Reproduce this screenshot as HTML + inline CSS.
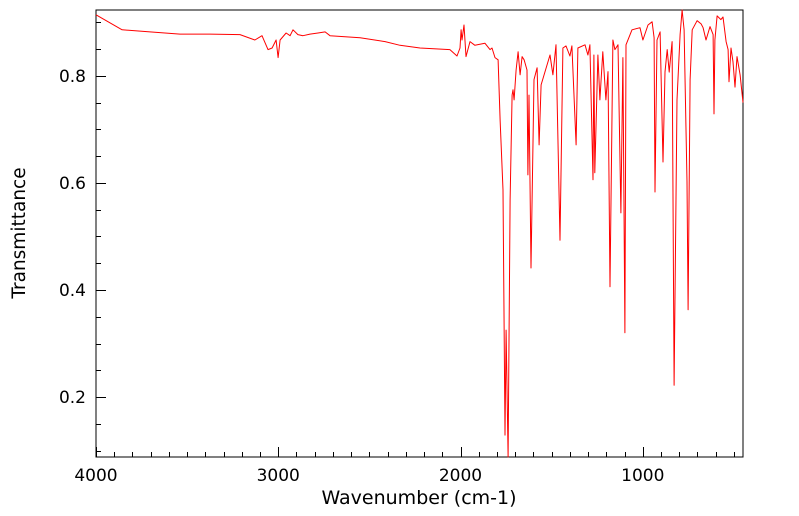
<!DOCTYPE html>
<html><head><meta charset="utf-8"><style>
html,body{margin:0;padding:0;background:#fff;}
svg{display:block;font-family:"DejaVu Sans","Liberation Sans",sans-serif;}
</style></head><body>
<svg id="chart" width="799" height="516" viewBox="0 0 799 516">
<rect x="96" y="10" width="647" height="447" fill="#fff" stroke="#000" stroke-width="1"/>
<g id="ticks"></g>
<path id="spec" fill="none" stroke="#ff0000" stroke-width="1" stroke-linejoin="round"/>
<text x="419" y="504" font-size="19" text-anchor="middle">Wavenumber (cm-1)</text>
<text transform="translate(25,233) rotate(-90)" font-size="18.5" text-anchor="middle">Transmittance</text>
</svg>
<script>
const wavenumbers=[4000,3857,3704,3539,3374,3210,3128,3089,3056,3034,3012,3001,2990,2957,2935,2919,2892,2864,2826,2782,2743,2716,2551,2414,2332,2222,2058,2019,2003,1997,1992,1981,1970,1948,1921,1866,1838,1827,1811,1794,1783,1767,1756,1750,1739,1728,1717,1712,1706,1695,1684,1673,1662,1651,1635,1630,1624,1613,1597,1580,1569,1558,1509,1493,1476,1454,1438,1421,1400,1389,1366,1356,1317,1301,1290,1273,1268,1263,1246,1235,1219,1202,1191,1180,1164,1153,1136,1120,1109,1098,1092,1059,1015,999,971,949,938,933,922,905,889,878,866,855,839,828,812,795,784,773,757,751,740,729,702,680,669,653,631,614,609,604,592,571,560,543,532,527,516,505,494,483,466,450];
const transmittance=[0.914,0.886,0.882,0.878,0.878,0.877,0.867,0.875,0.849,0.852,0.867,0.834,0.867,0.880,0.875,0.886,0.877,0.875,0.878,0.880,0.882,0.875,0.871,0.864,0.857,0.852,0.849,0.837,0.852,0.886,0.867,0.895,0.836,0.864,0.857,0.861,0.849,0.852,0.834,0.830,0.718,0.587,0.129,0.325,0.082,0.568,0.764,0.774,0.755,0.811,0.845,0.802,0.836,0.830,0.811,0.615,0.764,0.441,0.793,0.815,0.671,0.783,0.839,0.802,0.858,0.493,0.852,0.856,0.837,0.856,0.671,0.852,0.858,0.839,0.858,0.606,0.839,0.619,0.839,0.755,0.845,0.755,0.808,0.406,0.867,0.849,0.858,0.544,0.834,0.320,0.858,0.886,0.890,0.867,0.895,0.901,0.871,0.583,0.867,0.882,0.639,0.807,0.849,0.807,0.864,0.222,0.755,0.877,0.923,0.886,0.602,0.363,0.793,0.886,0.903,0.897,0.890,0.867,0.892,0.877,0.729,0.867,0.912,0.905,0.910,0.864,0.849,0.789,0.852,0.826,0.779,0.836,0.802,0.750];
const xTickLabels=[4000,3000,2000,1000];
const yTickLabels=[0.2,0.4,0.6,0.8];
const X0=96,X1=743,Y0=457,Y1=10,WMAX=4000,WMIN=450,TMIN=0.088,TMAX=0.923;
function xs(w){return X0+(WMAX-w)/(WMAX-WMIN)*(X1-X0);}
function ys(t){return Y0-(t-TMIN)/(TMAX-TMIN)*(Y0-Y1);}
const NS="http://www.w3.org/2000/svg";
const svg=document.getElementById('chart');
const g=document.getElementById('ticks');
function line(x1,y1,x2,y2){const l=document.createElementNS(NS,'line');l.setAttribute('x1',x1);l.setAttribute('y1',y1);l.setAttribute('x2',x2);l.setAttribute('y2',y2);l.setAttribute('stroke','#000');l.setAttribute('stroke-width','1');


g.appendChild(l);}
for(let w=4000;w>=500;w-=100){const x=Math.round(xs(w))+0.5;const major=w%1000===0;line(x,Y0,x,Y0-(major?10:5));}
for(let t=0.1;t<=0.91;t+=0.05){const v=Math.round(t*100)/100;const y=Math.round(ys(v))+0.5;const major=Math.round(v*100)%20===0;line(X0,y,X0+(major?10:5),y);}
xTickLabels.forEach(w=>{const t=document.createElementNS(NS,'text');t.setAttribute('x',xs(w));t.setAttribute('y',481);t.setAttribute('font-size','17');t.setAttribute('text-anchor','middle');t.textContent=w;


svg.appendChild(t);});
yTickLabels.forEach(v=>{const t=document.createElementNS(NS,'text');t.setAttribute('x',86);t.setAttribute('y',ys(v)+6);t.setAttribute('font-size','17');t.setAttribute('text-anchor','end');t.textContent=v.toFixed(1);


svg.appendChild(t);});
let d='';
wavenumbers.forEach((w,i)=>{const y=Math.max(Y1,Math.min(Y0,ys(transmittance[i])));d+=(i?'L':'M')+xs(w).toFixed(1)+','+y.toFixed(1);});
document.getElementById('spec').setAttribute('d',d);
</script>
</body></html>
